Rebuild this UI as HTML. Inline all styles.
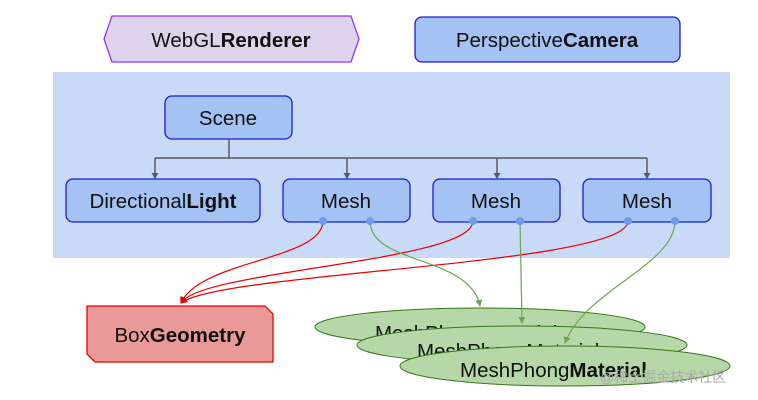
<!DOCTYPE html>
<html><head><style>body{margin:0;background:#fff}svg{display:block}text{font-family:"Liberation Sans",sans-serif;font-size:20.5px;fill:#111}</style></head><body>
<svg width="758" height="400" viewBox="0 0 758 400">
<defs>
<marker id="g" markerUnits="userSpaceOnUse" markerWidth="7" markerHeight="7" refX="6" refY="3.5" orient="auto"><path d="M0,0 L7,3.5 L0,7 z" fill="#6aa84f"/></marker>
<marker id="r" markerUnits="userSpaceOnUse" markerWidth="7" markerHeight="7" refX="6" refY="3.5" orient="auto"><path d="M0,0 L7,3.5 L0,7 z" fill="#e00"/></marker>
<marker id="k" markerUnits="userSpaceOnUse" markerWidth="6" markerHeight="7" refX="5" refY="3.5" orient="auto"><path d="M0,0 L6,3.5 L0,7 z" fill="#595959"/></marker>
</defs>
<polygon points="112,16 351,16 359,39 351,62 112,62 104,39" fill="#ddd3ea" stroke="#9933ee" stroke-width="1.3"/>
<text x="231" y="47" text-anchor="middle">WebGL<tspan font-weight="bold">Renderer</tspan></text>
<rect x="415" y="17" width="265" height="45" rx="7" fill="#a4c2f4" stroke="#1a1ad8" stroke-width="1.3"/>
<text x="547" y="47" text-anchor="middle">Perspective<tspan font-weight="bold">Camera</tspan></text>
<rect x="53" y="72" width="677" height="186" fill="#c9daf8"/>
<rect x="165" y="96" width="127" height="43" rx="7" fill="#a4c2f4" stroke="#1a1ad8" stroke-width="1.3"/>
<text x="228" y="125" text-anchor="middle">Scene</text>
<g stroke="#595959" stroke-width="1.5" fill="none">
<path d="M229,139 V158 M155,158 H647"/>
<path d="M155,158 V178" marker-end="url(#k)"/><path d="M347,158 V178" marker-end="url(#k)"/>
<path d="M497,158 V178" marker-end="url(#k)"/><path d="M647,158 V178" marker-end="url(#k)"/>
</g>
<rect x="66" y="179" width="194" height="43" rx="7" fill="#a4c2f4" stroke="#1a1ad8" stroke-width="1.3"/>
<text x="163" y="208" text-anchor="middle">Directional<tspan font-weight="bold">Light</tspan></text>
<rect x="283" y="179" width="127" height="43" rx="7" fill="#a4c2f4" stroke="#1a1ad8" stroke-width="1.3"/>
<text x="346" y="208" text-anchor="middle">Mesh</text>
<rect x="433" y="179" width="127" height="43" rx="7" fill="#a4c2f4" stroke="#1a1ad8" stroke-width="1.3"/>
<text x="496" y="208" text-anchor="middle">Mesh</text>
<rect x="583" y="179" width="128" height="43" rx="7" fill="#a4c2f4" stroke="#1a1ad8" stroke-width="1.3"/>
<text x="647" y="208" text-anchor="middle">Mesh</text>
<polygon points="87,306 265,306 273,314 273,362 95,362 87,354" fill="#ea9999" stroke="#e00" stroke-width="1.3"/>
<text x="180" y="342" text-anchor="middle">Box<tspan font-weight="bold">Geometry</tspan></text>
<ellipse cx="480" cy="327" rx="165" ry="19" fill="#b6d7a8" stroke="#38761d" stroke-width="1"/>
<text x="375" y="340">MeshPhongMaterial</text>
<ellipse cx="522" cy="345" rx="165" ry="19" fill="#b6d7a8" stroke="#38761d" stroke-width="1"/>
<text x="417" y="358">MeshPhongMaterial</text>
<ellipse cx="565" cy="366" rx="165" ry="20" fill="#b6d7a8" stroke="#38761d" stroke-width="1"/>
<text x="460" y="377">MeshPhong<tspan font-weight="bold">Material</tspan></text>
<g fill="none" stroke-width="1.2">
<path d="M323,221 C323,260 200,260 181,303" stroke="#e00" marker-end="url(#r)"/>
<path d="M473,221 C473,262 200,270 181,303" stroke="#e00" marker-end="url(#r)"/>
<path d="M628,221 C628,265 220,272 181,303" stroke="#e00" marker-end="url(#r)"/>
<path d="M370,221 C370,265 470,255 480,306" stroke="#6aa84f" marker-end="url(#g)"/>
<path d="M520,221 L522,323" stroke="#6aa84f" marker-end="url(#g)"/>
<path d="M675,221 C675,265 585,290 565,343" stroke="#6aa84f" marker-end="url(#g)"/>
</g>
<g fill="#6d9eeb"><circle cx="323" cy="221" r="4"/><circle cx="370" cy="221" r="4"/><circle cx="473" cy="221" r="4"/><circle cx="520" cy="221" r="4"/><circle cx="628" cy="221" r="4"/><circle cx="675" cy="221" r="4"/></g>
<text x="600" y="382" style="font-size:14px;fill:#aaa;font-family:'Liberation Sans','Noto Sans CJK SC',sans-serif">@稀土掘金技术社区</text>
</svg>
</body></html>
